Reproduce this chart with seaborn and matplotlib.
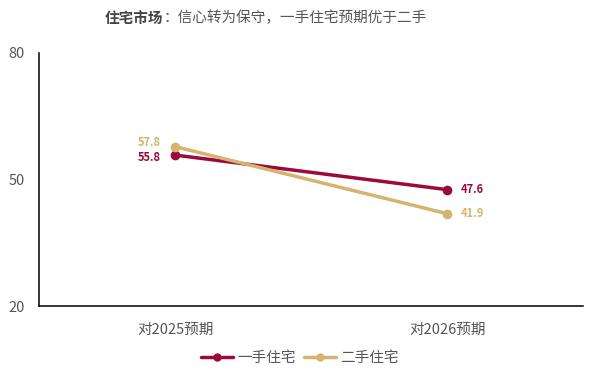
import matplotlib
matplotlib.use("Agg")
import matplotlib.pyplot as plt
import seaborn as sns
import pandas as pd
from matplotlib.lines import Line2D

categories = ["对2025预期", "对2026预期"]
series_names = ["一手住宅", "二手住宅"]
new_home = [55.8, 47.6]
second_home = [57.8, 41.9]
colors = ["#9B0A3C", "#D4B46E"]
yticks = [20, 50, 80]

sns.set_theme(style="white")
plt.rcParams['font.family'] = ['Noto Sans CJK SC', 'DejaVu Sans']

df = pd.DataFrame({
    "cat": categories * 2,
    "x": [0, 1, 0, 1],
    "value": new_home + second_home,
    "series": [series_names[0]] * 2 + [series_names[1]] * 2,
})

fig = plt.figure(figsize=(6, 3.84), dpi=100)
ax = fig.add_axes([0.065, 0.203, 0.907, 0.659])

sns.lineplot(data=df, x="x", y="value", hue="series", palette=colors,
             marker="o", markersize=7, markeredgewidth=0, linewidth=2.5,
             ax=ax, legend=False)

ax.set_xlim(-0.5, 1.5)
ax.set_ylim(20, 80)
ax.set_xticks([0, 1])
ax.set_xticklabels(categories)
ax.set_xticks([1.5], minor=True)
ax.set_yticks(yticks)
ax.set_xlabel("")
ax.set_ylabel("")
for s in ["top", "right"]:
    ax.spines[s].set_visible(False)
for s in ["left", "bottom"]:
    ax.spines[s].set_color("black")
    ax.spines[s].set_linewidth(1.1)
ax.tick_params(axis="both", which="both", direction="out", length=4, width=1,
               color="black", labelcolor="#555555", labelsize=10.5)
ax.tick_params(axis="x", pad=8)
ax.tick_params(axis="y", pad=6)

# data labels (first point labels nudged apart vertically, as in the reference)
vals = [new_home, second_home]
left_dy = [-2, 3]
for i, (v, c) in enumerate(zip(vals, colors)):
    ax.annotate(f"{v[0]:.1f}", (0, v[0]), xytext=(-10, left_dy[i]), textcoords="offset points",
                ha="right", va="center", color=c, fontsize=8, fontweight="bold")
    ax.annotate(f"{v[1]:.1f}", (1, v[1]), xytext=(10, 0), textcoords="offset points",
                ha="left", va="center", color=c, fontsize=8, fontweight="bold")

# title
fig.text(163 / 600, 1 - 18 / 384, "住宅市场", ha="right", va="center",
         fontsize=10.5, fontweight="bold", color="#444444")
fig.text(163 / 600, 1 - 18 / 384, "：信心转为保守，一手住宅预期优于二手", ha="left", va="center",
         fontsize=10.5, color="#555555")

handles = [Line2D([0], [0], color=c, lw=2.5, marker="o", markersize=6, markeredgewidth=0)
           for c in colors]
leg = fig.legend(handles, series_names, loc="center", bbox_to_anchor=(0.5, 1 - 358 / 384),
                 ncol=2, frameon=False, fontsize=10.5, handlelength=2.2, handletextpad=0.3,
                 columnspacing=0.5)
for t in leg.get_texts():
    t.set_color("#555555")

fig.savefig("out.png", dpi=100)
